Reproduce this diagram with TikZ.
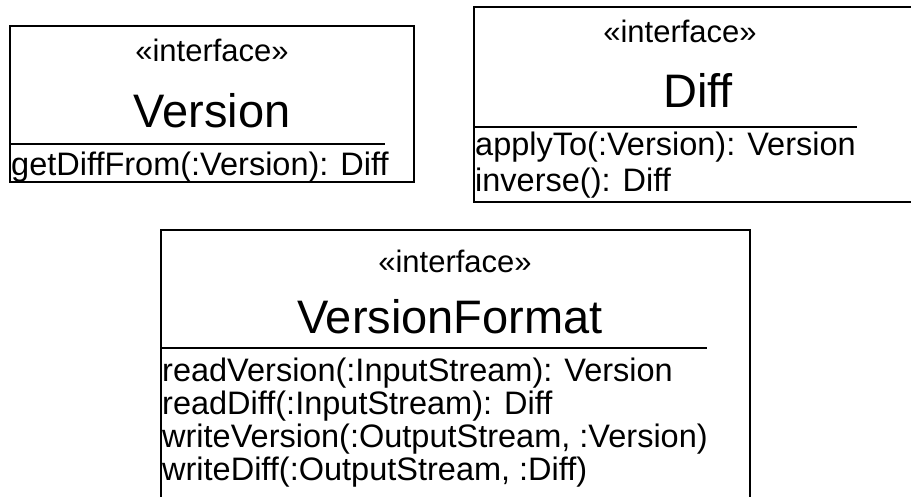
\documentclass[tikz,border=0pt]{standalone}
\usepackage{fontspec}
\setmainfont{Liberation Sans}
\usepackage{tikz}

\begin{document}
\begin{tikzpicture}[x=1pt,y=-1pt,
  stereo/.style={font=\fontsize{31}{31}\selectfont, anchor=base, inner sep=0pt},
  cname/.style={font=\fontsize{47}{47}\selectfont, anchor=base, inner sep=0pt},
  oper/.style={font=\fontsize{32.5}{32.5}\selectfont, anchor=base west, inner sep=0pt},
  box/.style={black, line width=1.5pt},
  sep/.style={black, line width=1.2pt}]

\useasboundingbox (0,0) rectangle (911,496);
\clip (0,0) rectangle (911,496);

\draw[box] (10,26) rectangle (414,182); %Version
\draw[sep] (10,144) -- (385,144);
    \node[stereo] (vst) at (212,61) {«interface»};
    \node[cname] (vname) at (212,127) {Version};
    \node[oper] (vop) at (11,175) {getDiffFrom(:Version): Diff};

\draw[box] (474,7) rectangle (930,202); %Diff
\draw[sep] (474,127) -- (857,127);
    \node[stereo] (dst) at (680,42) {«interface»};
    \node[cname] (dname) at (698,107) {Diff};
    \node[oper] (dop1) at (475,155) {applyTo(:Version): Version};
    \node[oper] (dop2) at (475,191) {inverse(): Diff};

\draw[box] (161,230) rectangle (750,520); %VersionFormat
\draw[sep] (161,348) -- (707,348);
    \node[stereo] (fst) at (455,272) {«interface»};
    \node[cname] (fname) at (450,333) {VersionFormat};
    \node[oper] (fop1) at (162,381) {readVersion(:InputStream): Version};
    \node[oper] (fop2) at (162,414) {readDiff(:InputStream): Diff};
    \node[oper] (fop3) at (162,447) {writeVersion(:OutputStream, :Version)};
    \node[oper] (fop4) at (162,480) {writeDiff(:OutputStream, :Diff)};

\end{tikzpicture}
\end{document}
